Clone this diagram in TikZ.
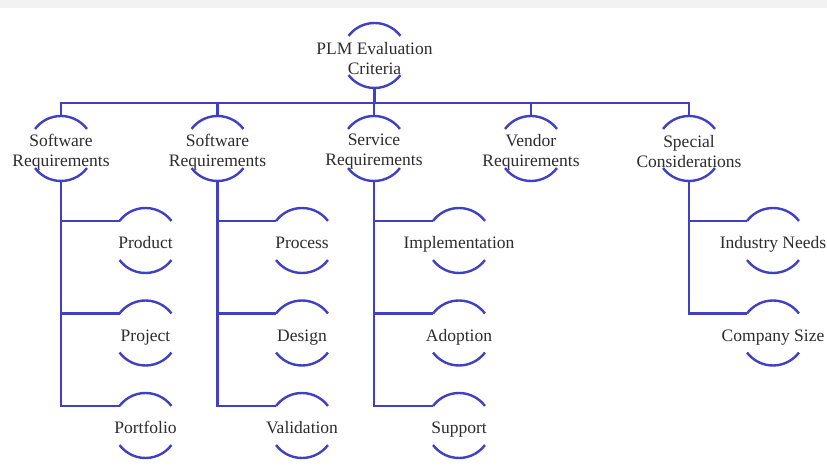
\documentclass[tikz,border=0pt]{standalone}
\usepackage{fontspec}
\setmainfont{Liberation Serif}
\usetikzlibrary{calc}
\definecolor{lineblue}{RGB}{64,64,196}
\definecolor{txt}{RGB}{45,45,45}
\definecolor{band}{RGB}{242,242,242}
\tikzset{
  conn/.style={draw=lineblue, line width=2.4pt},
  lbl/.style={text=txt, font=\fontsize{17.5}{20}\selectfont, align=center, inner sep=0pt},
  one/.style={text height=12.5pt, text depth=4pt},
}
% #1 name, #2 x, #3 y, #4 text offset, #5 extra style, #6 text
\newcommand\arcnode[6]{%
  \coordinate (#1) at (#2,#3);
  \node[lbl,#5] (#1-txt) at ($(#1)+(0,#4)$) {#6};
  \draw[conn] (#1) ++(37:32.5) arc[start angle=37,end angle=143,radius=32.5];
  \draw[conn] (#1) ++(-37:32.5) arc[start angle=-37,end angle=-143,radius=32.5];
  \coordinate (#1-t) at ($(#1)+(0,32.5)$);
  \coordinate (#1-b) at ($(#1)+(0,-32.5)$);
  \coordinate (#1-l) at ($(#1)+(143:32.5)$);
}
\begin{document}
\begin{tikzpicture}[x=1pt,y=1pt]
\useasboundingbox (0,0) rectangle (827,471);
\fill[white] (0,0) rectangle (827,471);
\fill[band] (0,463) rectangle (827,471);
% root
\arcnode{root}{374.5}{415.5}{-3.5}{}{PLM Evaluation\\Criteria}
% level 1
\arcnode{sa}{61}{322.5}{-3.5}{}{Software\\Requirements}
\arcnode{sb}{217.5}{322.5}{-3.5}{}{Software\\Requirements}
\arcnode{sc}{374}{322.5}{-3.5}{}{Service\\Requirements}
\arcnode{sd}{531}{322.5}{-3.5}{}{Vendor\\Requirements}
\arcnode{se}{689}{322.5}{-3.5}{}{Special\\Considerations}
% children
\arcnode{a1}{145.5}{230.5}{-4}{one}{Product}
\arcnode{a2}{145.5}{138}{-4}{one}{Project}
\arcnode{a3}{145.5}{45.5}{-4}{one}{Portfolio}
\arcnode{b1}{302}{230.5}{-4}{one}{Process}
\arcnode{b2}{302}{138}{-4}{one}{Design}
\arcnode{b3}{302}{45.5}{-4}{one}{Validation}
\arcnode{c1}{459}{230.5}{-4}{one}{Implementation}
\arcnode{c2}{459}{138}{-4}{one}{Adoption}
\arcnode{c3}{459}{45.5}{-4}{one}{Support}
\arcnode{e1}{773}{230.5}{-4}{one}{Industry Needs}
\arcnode{e2}{773}{138}{-4}{one}{Company Size}
% bus
\coordinate (bus) at (0,368);
\draw[conn] (sa-t) |- (se-t |- bus) -- (se-t);
\draw[conn] (root-b) -- (root-b |- bus);
\draw[conn] (sb-t) -- (sb-t |- bus);
\draw[conn] (sc-t) -- (sc-t |- bus);
\draw[conn] (sd-t) -- (sd-t |- bus);
% children connectors
\draw[conn] (sa-b) |- (a3-l);
\draw[conn] (sa-b |- a1-l) -- (a1-l);
\draw[conn] (sa-b |- a2-l) -- (a2-l);
\draw[conn] (sb-b) |- (b3-l);
\draw[conn] (sb-b |- b1-l) -- (b1-l);
\draw[conn] (sb-b |- b2-l) -- (b2-l);
\draw[conn] (sc-b) |- (c3-l);
\draw[conn] (sc-b |- c1-l) -- (c1-l);
\draw[conn] (sc-b |- c2-l) -- (c2-l);
\draw[conn] (se-b) |- (e2-l);
\draw[conn] (se-b |- e1-l) -- (e1-l);
\end{tikzpicture}
\end{document}
